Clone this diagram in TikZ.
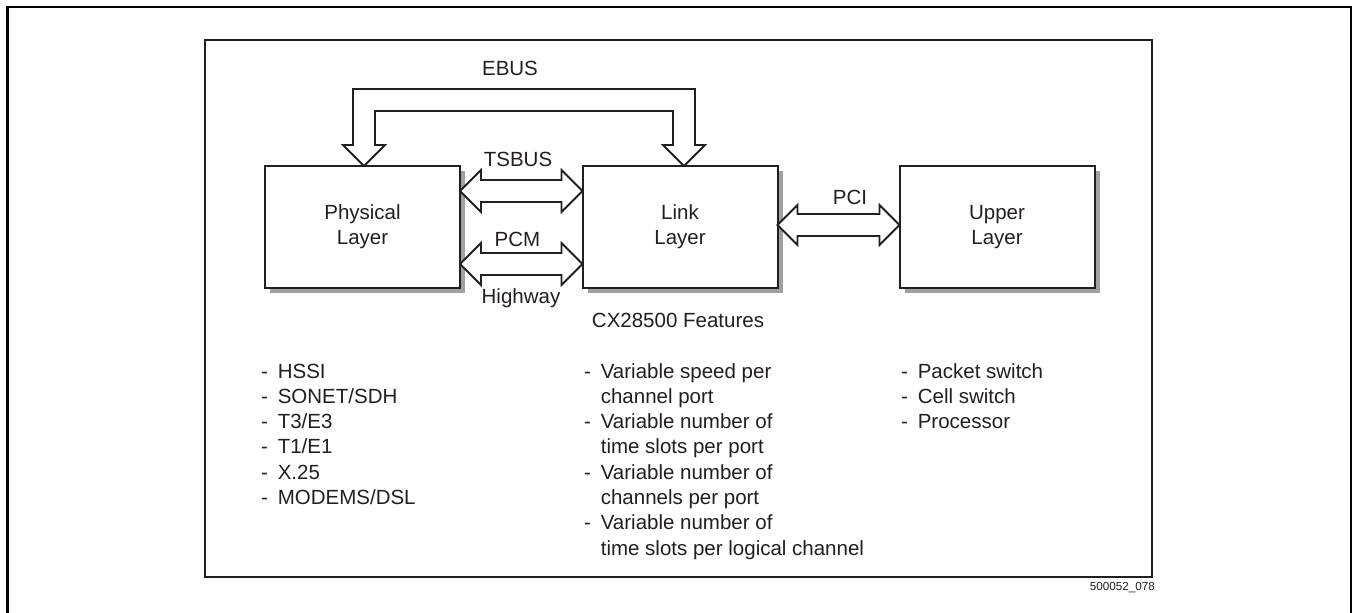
\documentclass[tikz,border=0pt]{standalone}
\usepackage{fontspec}
\setmainfont{Liberation Sans}
\usetikzlibrary{calc,backgrounds}
\definecolor{ink}{RGB}{35,31,32}
\definecolor{shade}{RGB}{160,160,160}
\begin{document}
\begin{tikzpicture}[x=1pt,y=-1pt,
  every node/.style={text=ink, inner sep=0pt, outer sep=0pt},
  layerbox/.style={draw=ink, line width=2pt, fill=white, minimum width=195pt, minimum height=122pt, align=center, font=\fontsize{20.5}{25}\selectfont},
  busarrow/.style={draw=ink, line width=1.8pt, fill=white, line join=miter},
  lbl/.style={font=\fontsize{20.5}{25}\selectfont, anchor=base},
  listtext/.style={font=\fontsize{20.5}{25.3}\selectfont, anchor=base west},
  shadowfill/.style={fill=shade},
  outerframe/.style={draw=black, line width=2.5pt},
  innerframe/.style={draw=ink, line width=1.2pt}
]
\useasboundingbox (0,0) rectangle (1353,613);
\begin{scope}[on background layer]
  \fill[white] (0,0) rectangle (1353,613);
\end{scope}

% frames
\draw[outerframe] (7.5,615) -- (7.5,7) -- (1351,7) -- (1351,615);
\draw[innerframe] (205,40) rectangle (1152,577);

% layer boxes
\node[layerbox] (phys) at (362.5,227) {Physical\\Layer};
\node[layerbox] (link) at (680,227) {Link\\Layer};
\node[layerbox] (upper) at (997,227) {Upper\\Layer};

\begin{scope}[on background layer]
  \fill[shadowfill] ($(phys.south west)+(5,5)$) rectangle ($(phys.north east)+(5,5)$);
  \fill[shadowfill] ($(link.south west)+(5,5)$) rectangle ($(link.north east)+(5,5)$);
  \fill[shadowfill] ($(upper.south west)+(5,5)$) rectangle ($(upper.north east)+(5,5)$);
\end{scope}

% anchor points for bus arrows
\coordinate (eL) at ($(phys.north)+(1.5,0)$);
\coordinate (eR) at ($(link.north)+(4,0)$);
\coordinate (tA) at ($(phys.east)+(0,-36)$);
\coordinate (tB) at ($(link.west)+(0,-36)$);
\coordinate (pA) at ($(phys.east)+(0,37)$);
\coordinate (pB) at ($(link.west)+(0,37)$);
\coordinate (cA) at ($(link.east)+(0,-2)$);
\coordinate (cB) at ($(upper.west)+(0,-2)$);

% EBUS
\draw[busarrow] (eL) -- ++(-21,-21) -- ++(10,0) -- ++(0,-56)
  -- ($(eR)+(11,-77)$) -- ++(0,56) -- ++(10,0) -- (eR) -- ++(-21,-21)
  -- ++(10,0) -- ++(0,-34) -- ($(eL)+(11,-55)$) -- ++(0,34) -- ++(10,0) -- cycle;

% TSBUS
\draw[busarrow] (tA) -- ++(21,-21) -- ++(0,10) -- ($(tB)+(-21,-11)$) -- ++(0,-10)
  -- (tB) -- ++(-21,21) -- ++(0,-10) -- ($(tA)+(21,11)$) -- ++(0,10) -- cycle;
% PCM
\draw[busarrow] (pA) -- ++(21,-21) -- ++(0,10) -- ($(pB)+(-21,-11)$) -- ++(0,-10)
  -- (pB) -- ++(-21,21) -- ++(0,-10) -- ($(pA)+(21,11)$) -- ++(0,10) -- cycle;
% PCI
\draw[busarrow] (cA) -- ++(20,-20) -- ++(0,9) -- ($(cB)+(-20,-11)$) -- ++(0,-9)
  -- (cB) -- ++(-20,20) -- ++(0,-9) -- ($(cA)+(20,11)$) -- ++(0,9) -- cycle;

% labels
\node[lbl] (ebus) at (510,75) {EBUS};
\node[lbl] (tsbus) at (518,166) {TSBUS};
\node[lbl] (pcm) at (517.5,246) {PCM};
\node[lbl] (hwy) at (521,303) {Highway};
\node[lbl] (pci) at (850,204) {PCI};
\node[lbl] (feat) at (678,327) {CX28500 Features};
\node[font=\fontsize{11.7}{14}\selectfont, anchor=base east] (fig) at (1155,590) {500052\_078};

% lists
\node[listtext] (physlist) at (261,378) {\begin{tabular}[t]{@{}l@{\hspace{10pt}}l@{}}
- & HSSI\\
- & SONET/SDH\\
- & T3/E3\\
- & T1/E1\\
- & X.25\\
- & MODEMS/DSL
\end{tabular}};
\node[listtext] (linklist) at (584,378) {\begin{tabular}[t]{@{}l@{\hspace{10pt}}l@{}}
- & Variable speed per\\
  & channel port\\
- & Variable number of\\
  & time slots per port\\
- & Variable number of\\
  & channels per port\\
- & Variable number of\\
  & time slots per logical channel
\end{tabular}};
\node[listtext] (upperlist) at (901,378) {\begin{tabular}[t]{@{}l@{\hspace{10pt}}l@{}}
- & Packet switch\\
- & Cell switch\\
- & Processor
\end{tabular}};
\end{tikzpicture}
\end{document}
